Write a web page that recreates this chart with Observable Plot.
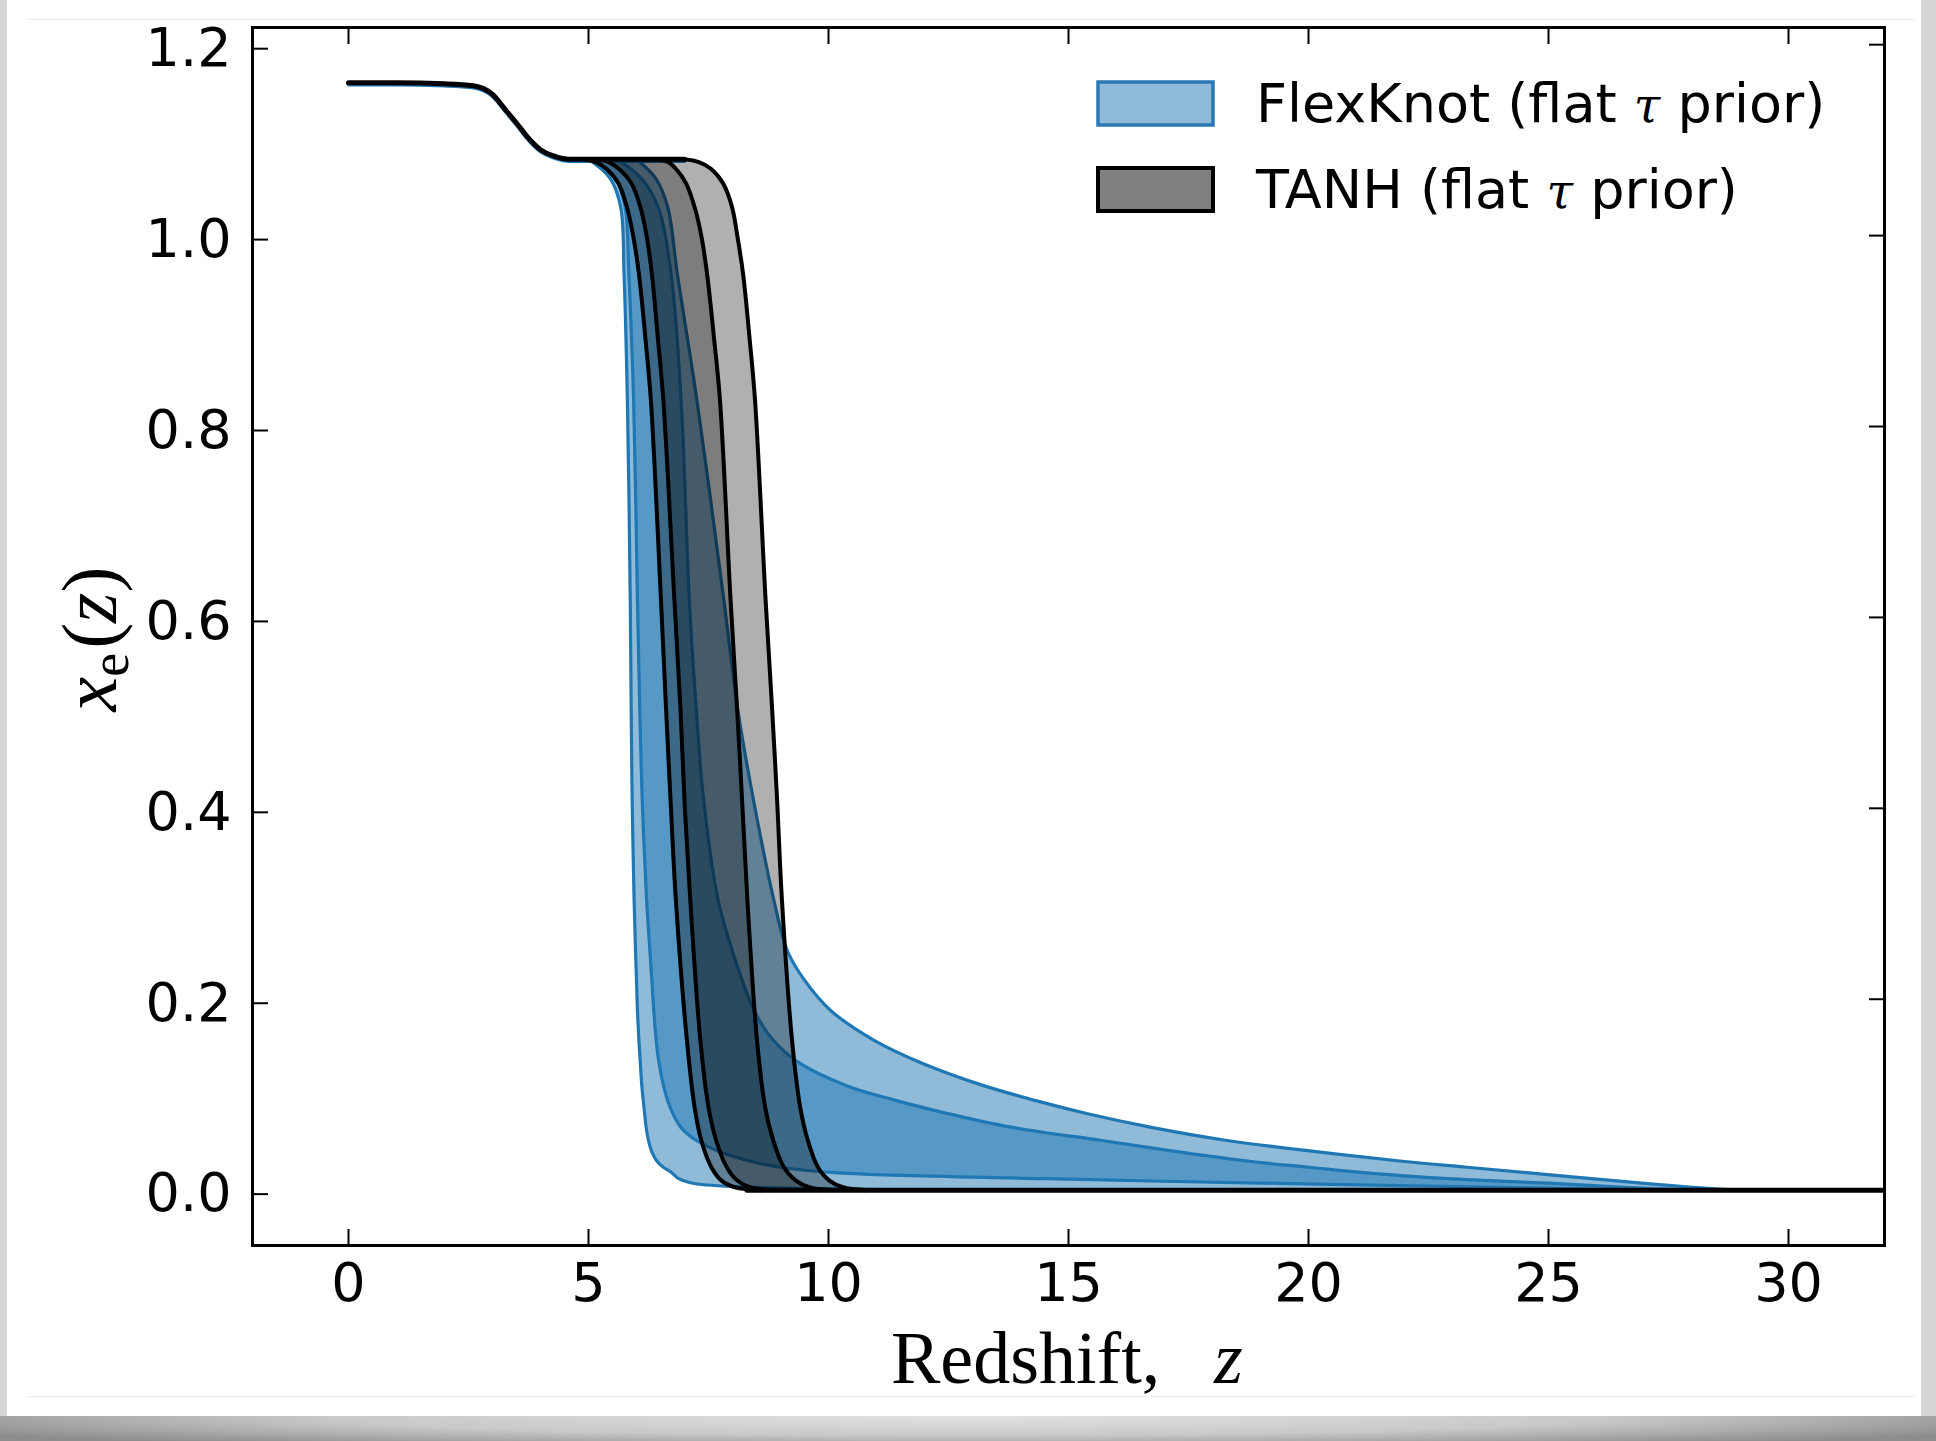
<!DOCTYPE html>
<html>
<head>
<meta charset="utf-8">
<script src="https://cdn.jsdelivr.net/npm/d3@7"></script>
<script src="https://cdn.jsdelivr.net/npm/@observablehq/plot@0.6"></script>
<style>
  html, body { margin: 0; padding: 0; }
  body { width: 1936px; height: 1441px; position: relative; overflow: hidden; background: #d6d6d6; }
  #card { position: absolute; left: 7px; top: 0; width: 1914px; height: 1416px; background: #fff; }
  #shadow { position: absolute; left: 0; top: 1416px; width: 1936px; height: 25px;
            background: radial-gradient(ellipse 60% 140% at 50% 0%, #e2e2e2 0%, #c9c9c9 55%, #8d8d8d 100%); }
  #inner { position: absolute; left: 27px; top: 19px; width: 1888px; height: 1376px;
           border-top: 1px solid #ececec; border-bottom: 1px solid #ececec; }
  #chart { position: absolute; left: 0; top: 0; }
</style>
</head>
<body>
<div id="shadow"></div>
<div id="card"></div>
<div id="inner"></div>
<div id="chart"></div>
<script>
// ---------------- data ----------------
const xTicks = [0, 5, 10, 15, 20, 25, 30];
const yTicks = [0.0, 0.2, 0.4, 0.6, 0.8, 1.0, 1.2];
const yTickLabels = ["0.0", "0.2", "0.4", "0.6", "0.8", "1.0", "1.2"];

// Helium plateau / step shared by both models (z, x_e)
const plateauZ  = [0, 1, 2, 2.6, 3.0, 3.3, 3.5, 3.7, 4.0, 4.3, 4.6, 5.0, 6.0, 7.0];
const plateauXe = [1.16, 1.16, 1.159, 1.157, 1.148, 1.13, 1.118, 1.105, 1.09, 1.083, 1.08, 1.08, 1.08, 1.08];
// fully neutral floor
const floorZ  = [8.3, 32];
const floorXe = [0, 0];

// TANH bands: redshift of each band edge at the given x_e levels
const tanhLevels = [0, 0.003, 0.01, 0.024, 0.052, 0.087, 0.157, 0.304, 0.408, 0.5, 0.618, 0.827, 0.89, 0.96, 1.0, 1.03, 1.055, 1.07, 1.077, 1.08];
const tanh2Lo = [8.6, 8.05, 7.77, 7.56, 7.35, 7.21, 7.05, 6.82, 6.71, 6.62, 6.51, 6.3, 6.19, 6.05, 5.93, 5.8, 5.62, 5.37, 5.15, 4.9];
const tanh1Lo = [8.85, 8.36, 8.1, 7.88, 7.66, 7.5, 7.33, 7.12, 7.0, 6.92, 6.79, 6.56, 6.45, 6.32, 6.21, 6.08, 5.89, 5.63, 5.42, 5.2];
const tanh1Hi = [10.1, 9.6, 9.32, 9.07, 8.85, 8.68, 8.51, 8.31, 8.2, 8.1, 7.96, 7.74, 7.62, 7.47, 7.35, 7.21, 7.03, 6.82, 6.66, 6.45];
const tanh2Hi = [10.8, 10.3, 10.02, 9.78, 9.57, 9.41, 9.24, 9.03, 8.93, 8.83, 8.69, 8.47, 8.36, 8.22, 8.1, 7.99, 7.8, 7.55, 7.3, 7.0];

// FlexKnot bands: redshift of each band edge at the given x_e levels
const fkLevels = [0, 0.003, 0.007, 0.012, 0.018, 0.024, 0.03, 0.04, 0.052, 0.066, 0.08, 0.094, 0.11, 0.133, 0.157, 0.188, 0.22, 0.25, 0.304, 0.408, 0.5, 0.618, 0.827, 0.96, 1.03, 1.06, 1.08];
const flex2Lo = [12, 8.5, 7.2, 6.88, 6.74, 6.56, 6.43, 6.32, 6.25, 6.2, 6.17, 6.14, 6.11, 6.08, 6.05, 6.02, 6.0, 5.98, 5.95, 5.91, 5.89, 5.87, 5.81, 5.74, 5.67, 5.45, 5.0];
const flex1Lo = [27, 24, 19.4, 14.5, 10.2, 9.0, 8.4, 7.75, 7.25, 6.92, 6.76, 6.65, 6.56, 6.47, 6.41, 6.36, 6.32, 6.28, 6.21, 6.12, 6.07, 6.02, 5.94, 5.84, 5.76, 5.56, 5.1];
const flex1Hi = [28, 26.6, 25.1, 22.9, 21.2, 20, 18.8, 17.3, 15.7, 13.8, 12.5, 11.4, 10.35, 9.4, 8.85, 8.45, 8.2, 8.0, 7.7, 7.4, 7.25, 7.1, 6.93, 6.72, 6.45, 6.1, 5.6];
const flex2Hi = [29, 28, 27.0, 25.9, 24.6, 23.3, 22.0, 20.2, 18.3, 16.7, 15.4, 14.3, 13.2, 11.95, 10.95, 10.05, 9.5, 9.15, 8.86, 8.44, 8.12, 7.82, 7.26, 6.85, 6.65, 6.4, 6.0];

// legend entries
const legendLabels = ["FlexKnot (flat ", "TANH (flat "];

// ---------------- tables ----------------
const tanhRows = tanhLevels.map((xe, i) => ({xe, t2l: tanh2Lo[i], t1l: tanh1Lo[i], t1h: tanh1Hi[i], t2h: tanh2Hi[i]}));
const fkRows = fkLevels.map((xe, i) => ({xe, l2: flex2Lo[i], l1: flex1Lo[i], u1: flex1Hi[i], u2: flex2Hi[i]}));
const plateauRows = plateauZ.map((z, i) => ({z, xe: plateauXe[i]}));
const floorRows = floorZ.map((z, i) => ({z, xe: floorXe[i]}));

const BLUE = "#1f77b4";
const curve = "catmull-rom";

const blueEdge = (k) => Plot.lineX(fkRows, {y: "xe", x: k, stroke: BLUE, strokeWidth: 3.2, curve, clip: true});
const blackEdge = (k) => Plot.lineX(tanhRows, {y: "xe", x: k, stroke: "black", strokeWidth: 4, curve, clip: true});

const chart = Plot.plot({
  width: 1936,
  height: 1441,
  marginLeft: 252,
  marginRight: 52,
  marginTop: 27,
  marginBottom: 196,
  x: {domain: [-2, 32], label: null},
  y: {domain: [-0.058, 1.218], label: null},
  style: {background: "transparent", fontFamily: "DejaVu Sans", fontSize: "54px", color: "black", overflow: "visible"},
  marks: [
    // FlexKnot
    Plot.areaX(fkRows, {y: "xe", x1: "l2", x2: "u2", fill: BLUE, fillOpacity: 0.5, curve, clip: true}),
    Plot.areaX(fkRows, {y: "xe", x1: "l1", x2: "u1", fill: BLUE, fillOpacity: 0.5, curve, clip: true}),
    blueEdge("l2"), blueEdge("u2"), blueEdge("l1"), blueEdge("u1"),
    Plot.lineY(plateauRows, {x: "z", y: "xe", stroke: BLUE, strokeWidth: 3.5, dy: 2, curve: "monotone-x", clip: true}),
    Plot.lineY(floorRows, {x: "z", y: "xe", stroke: BLUE, strokeWidth: 3.5, clip: true}),
    // TANH
    Plot.areaX(tanhRows, {y: "xe", x1: "t2l", x2: "t2h", fill: "black", fillOpacity: 0.31, curve, clip: true}),
    Plot.areaX(tanhRows, {y: "xe", x1: "t1l", x2: "t1h", fill: "black", fillOpacity: 0.29, curve, clip: true}),
    blackEdge("t2l"), blackEdge("t1l"), blackEdge("t1h"), blackEdge("t2h"),
    Plot.lineY(plateauRows, {x: "z", y: "xe", stroke: "black", strokeWidth: 5, curve: "monotone-x", clip: true}),
    Plot.lineY(floorRows, {x: "z", y: "xe", stroke: "black", strokeWidth: 5, clip: true}),
    // axes (ticks inside, on all four sides)
    Plot.axisX({ticks: xTicks, anchor: "bottom", tickSize: -16, tickPadding: 33, strokeWidth: 2, label: null}),
    Plot.axisX({ticks: xTicks, anchor: "top", tickSize: -16, strokeWidth: 2, tickFormat: () => "", label: null}),
    Plot.axisY({ticks: yTicks, anchor: "left", tickSize: -16, tickPadding: 37, strokeWidth: 2, dy: 4,
                tickFormat: (d) => yTickLabels[yTicks.indexOf(d)], label: null}),
    Plot.axisY({ticks: yTicks, anchor: "right", tickSize: -16, strokeWidth: 2, tickFormat: () => "", label: null}),
    Plot.frame({stroke: "black", strokeWidth: 3})
  ]
});

document.getElementById("chart").appendChild(chart);

// ---------------- axis titles and legend ----------------
const svg = d3.select(chart);
const serif = "'Liberation Serif', 'DejaVu Serif', serif";

const xl = svg.append("text")
  .attr("x", 891).attr("y", 1383).attr("text-anchor", "start")
  .attr("font-family", serif).attr("font-size", 74).attr("fill", "black");
xl.append("tspan").text("Redshift,");
xl.append("tspan").attr("x", 1214).attr("font-style", "italic").text("z");

const yl = svg.append("text")
  .attr("transform", "translate(116,639) rotate(-90)")
  .attr("text-anchor", "middle")
  .attr("font-family", serif).attr("font-size", 78).attr("fill", "black");
yl.append("tspan").attr("font-style", "italic").text("x");
yl.append("tspan").attr("font-size", 54).attr("dy", 12).text("e");
yl.append("tspan").attr("dy", -12).attr("dx", 4).text("(");
yl.append("tspan").attr("font-style", "italic").text("z");
yl.append("tspan").text(")");

const leg = svg.append("g");
const legendRows = [
  {y: 82, fill: "#8fbbd9", stroke: "#2a78b4", sw: 3.5},
  {y: 168, fill: "#808080", stroke: "black", sw: 4}
];
legendRows.forEach((r, i) => {
  leg.append("rect").attr("x", 1098).attr("y", r.y).attr("width", 115).attr("height", 43)
    .attr("fill", r.fill).attr("stroke", r.stroke).attr("stroke-width", r.sw);
  const t = leg.append("text").attr("x", 1256).attr("y", r.y + 40).attr("text-anchor", "start")
    .attr("font-family", "DejaVu Sans").attr("font-size", 54).attr("fill", "black");
  t.append("tspan").text(legendLabels[i]);
  t.append("tspan").attr("font-family", "'DejaVu Serif', serif").attr("font-style", "italic").attr("font-size", 48).text("\u03C4");
  t.append("tspan").text(" prior)");
});
</script>
</body>
</html>
